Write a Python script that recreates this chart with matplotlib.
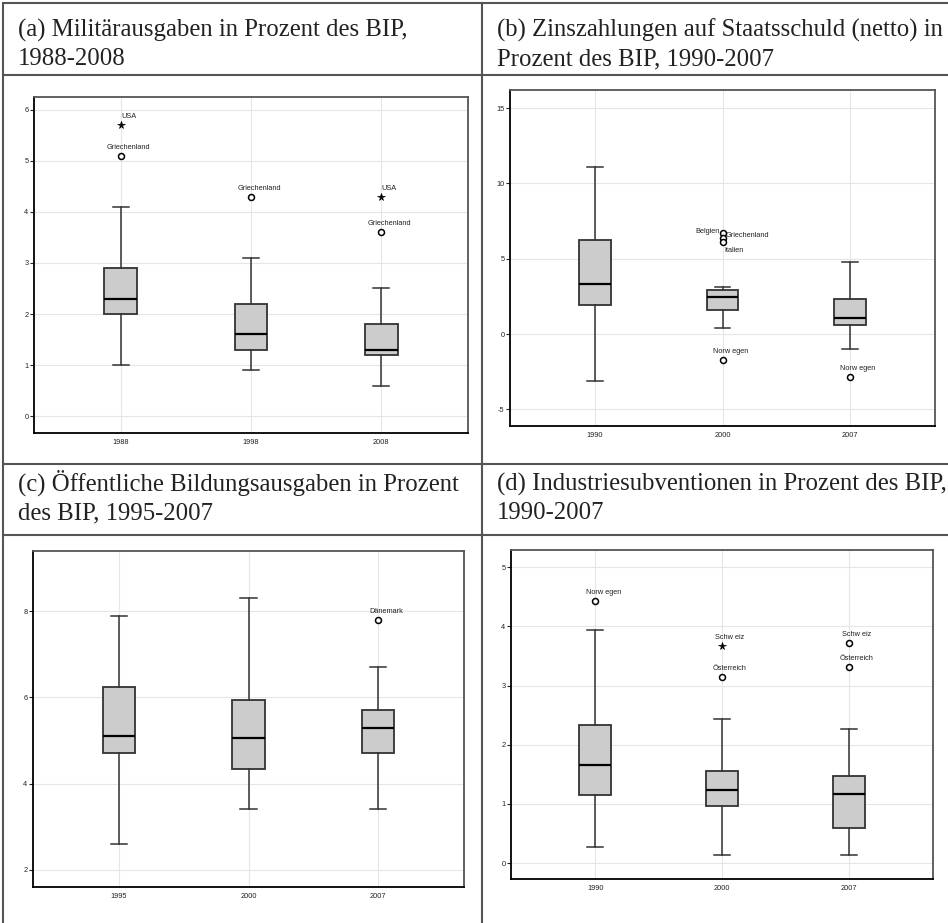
import matplotlib
matplotlib.use("Agg")
import matplotlib.pyplot as plt
from matplotlib.lines import Line2D

W, H = 948, 923

# ---- data ----
titles_a = ["(a) Militärausgaben in Prozent des BIP,", "1988-2008"]
years_a = ["1988", "1998", "2008"]
lo_a = [1.0, 0.9, 0.6]
q1_a = [2.0, 1.3, 1.2]
med_a = [2.3, 1.6, 1.3]
q3_a = [2.9, 2.2, 1.8]
hi_a = [4.1, 3.1, 2.5]
out_year_a = ["1988", "1988", "1998", "2008", "2008"]
out_val_a = [5.7, 5.1, 4.3, 4.3, 3.6]
out_name_a = ["USA", "Griechenland", "Griechenland", "USA", "Griechenland"]
out_kind_a = ["extrem", "ausreisser", "ausreisser", "extrem", "ausreisser"]

titles_b = ["(b) Zinszahlungen auf Staatsschuld (netto) in", "Prozent des BIP, 1990-2007"]
years_b = ["1990", "2000", "2007"]
lo_b = [-3.1, 0.4, -1.0]
q1_b = [1.95, 1.6, 0.6]
med_b = [3.35, 2.45, 1.05]
q3_b = [6.25, 2.95, 2.3]
hi_b = [11.1, 3.1, 4.8]
out_year_b = ["2000", "2000", "2000", "2000", "2007"]
out_val_b = [6.7, 6.4, 6.1, -1.7, -2.85]
out_name_b = ["Belgien", "Griechenland", "Italien", "Norw egen", "Norw egen"]
out_kind_b = ["ausreisser"] * 5

titles_c = ["(c) Öffentliche Bildungsausgaben in Prozent", "des BIP, 1995-2007"]
years_c = ["1995", "2000", "2007"]
lo_c = [2.6, 3.4, 3.4]
q1_c = [4.7, 4.35, 4.7]
med_c = [5.1, 5.05, 5.3]
q3_c = [6.25, 5.95, 5.7]
hi_c = [7.9, 8.3, 6.7]
out_year_c = ["2007"]
out_val_c = [7.8]
out_name_c = ["Dänemark"]
out_kind_c = ["ausreisser"]

titles_d = ["(d) Industriesubventionen in Prozent des BIP,", "1990-2007"]
years_d = ["1990", "2000", "2007"]
lo_d = [0.27, 0.14, 0.13]
q1_d = [1.15, 0.97, 0.59]
med_d = [1.65, 1.24, 1.17]
q3_d = [2.34, 1.55, 1.47]
hi_d = [3.93, 2.43, 2.27]
out_year_d = ["1990", "2000", "2000", "2007", "2007"]
out_val_d = [4.43, 3.66, 3.15, 3.72, 3.32]
out_name_d = ["Norw egen", "Schw eiz", "Österreich", "Schw eiz", "Österreich"]
out_kind_d = ["ausreisser", "extrem", "ausreisser", "ausreisser", "ausreisser"]

# special label placement (offset in px, alignment)
label_pos = {"Belgien": (-3, 2, "right", "center"),
             "Griechenland_b": (3, 2, "left", "center"),
             "Italien": (2, -8, "left", "center")}

fig = plt.figure(figsize=(W / 100, H / 100), dpi=100)


def fx(x):
    return x / W


def fy(y):
    return 1 - y / H


def panel(box, titles, tx, ty, years, lo, q1, med, q3, hi,
          oyear, oval, oname, okind, ylim, yticks, key):
    l, t, r, b = box
    ax = fig.add_axes([fx(l), fy(b), fx(r) - fx(l), fy(t) - fy(b)])
    stats = []
    for i in range(len(years)):
        stats.append(dict(med=med[i], q1=q1[i], q3=q3[i],
                          whislo=lo[i], whishi=hi[i], fliers=[]))
    pos = list(range(1, len(years) + 1))
    ax.bxp(stats, positions=pos, widths=0.25, capwidths=0.125,
           patch_artist=True, showfliers=False,
           boxprops=dict(facecolor="#cccccc", edgecolor="#333333", linewidth=1.3),
           medianprops=dict(color="black", linewidth=1.6),
           whiskerprops=dict(color="#333333", linewidth=1.1),
           capprops=dict(color="#333333", linewidth=1.1))
    for yr, v, nm, k in zip(oyear, oval, oname, okind):
        xp = years.index(yr) + 1
        if k == "extrem":
            ax.plot(xp, v, marker="*", ms=5.5, color="black", mew=0.5, zorder=5)
        else:
            ax.plot(xp, v, marker="o", ms=4.3, mfc="white", mec="black",
                    mew=1.1, zorder=5)
        lk = nm if nm in label_pos else nm + "_" + key
        dx, dy, ha, va = label_pos.get(lk, (8, 5, "center", "bottom"))
        ax.annotate(nm, (xp, v), xytext=(dx * 0.72, dy * 0.72),
                    textcoords="offset points", ha=ha, va=va,
                    fontsize=5.3, family="Liberation Sans", color="#222")
    ax.set_xlim(0.335, 3.665)
    ax.set_ylim(*ylim)
    ax.set_xticks(pos)
    ax.set_xticklabels(years)
    ax.set_yticks(yticks)
    ax.set_yticklabels([str(v) for v in yticks])
    ax.tick_params(axis="y", length=3, width=0.8, labelsize=5.3, pad=1,
                   colors="#222")
    ax.tick_params(axis="x", length=0, labelsize=5.3, pad=4, colors="#222")
    for lab in ax.get_xticklabels() + ax.get_yticklabels():
        lab.set_family("Liberation Sans")
    ax.grid(color="#e6e6e6", linewidth=0.8)
    ax.set_axisbelow(True)
    for s in ["left", "bottom"]:
        ax.spines[s].set_color("black")
        ax.spines[s].set_linewidth(1.3)
    for s in ["top", "right"]:
        ax.spines[s].set_color("#555555")
        ax.spines[s].set_linewidth(1.3)
    fig.text(fx(tx), fy(ty), titles[0], fontsize=17.8, family="Liberation Serif",
             color="#222", va="baseline")
    fig.text(fx(tx), fy(ty + 28), titles[1], fontsize=17.8,
             family="Liberation Serif", color="#222", va="baseline")
    return ax


panel((34, 97, 468, 433), titles_a, 18, 37, years_a, lo_a, q1_a, med_a, q3_a, hi_a,
      out_year_a, out_val_a, out_name_a, out_kind_a, (-0.33, 6.25), [0, 1, 2, 3, 4, 5, 6], "a")
panel((510, 90, 935, 426), titles_b, 497, 37, years_b, lo_b, q1_b, med_b, q3_b, hi_b,
      out_year_b, out_val_b, out_name_b, out_kind_b, (-6.1, 16.2), [-5, 0, 5, 10, 15], "b")
panel((33, 551, 464, 887), titles_c, 18, 491, years_c, lo_c, q1_c, med_c, q3_c, hi_c,
      out_year_c, out_val_c, out_name_c, out_kind_c, (1.6, 9.4), [2, 4, 6, 8], "c")
panel((511, 550, 933, 879), titles_d, 497, 491, years_d, lo_d, q1_d, med_d, q3_d, hi_d,
      out_year_d, out_val_d, out_name_d, out_kind_d, (-0.27, 5.29), [0, 1, 2, 3, 4, 5], "d")

# table rules
for y in [3, 75, 464, 535]:
    fig.add_artist(Line2D([fx(3), 1], [fy(y), fy(y)], transform=fig.transFigure,
                          color="#555555", linewidth=1.5))
for x in [3, 482]:
    fig.add_artist(Line2D([fx(x), fx(x)], [fy(3), 0], transform=fig.transFigure,
                          color="#555555", linewidth=1.5))

fig.savefig("out.png", dpi=100)
